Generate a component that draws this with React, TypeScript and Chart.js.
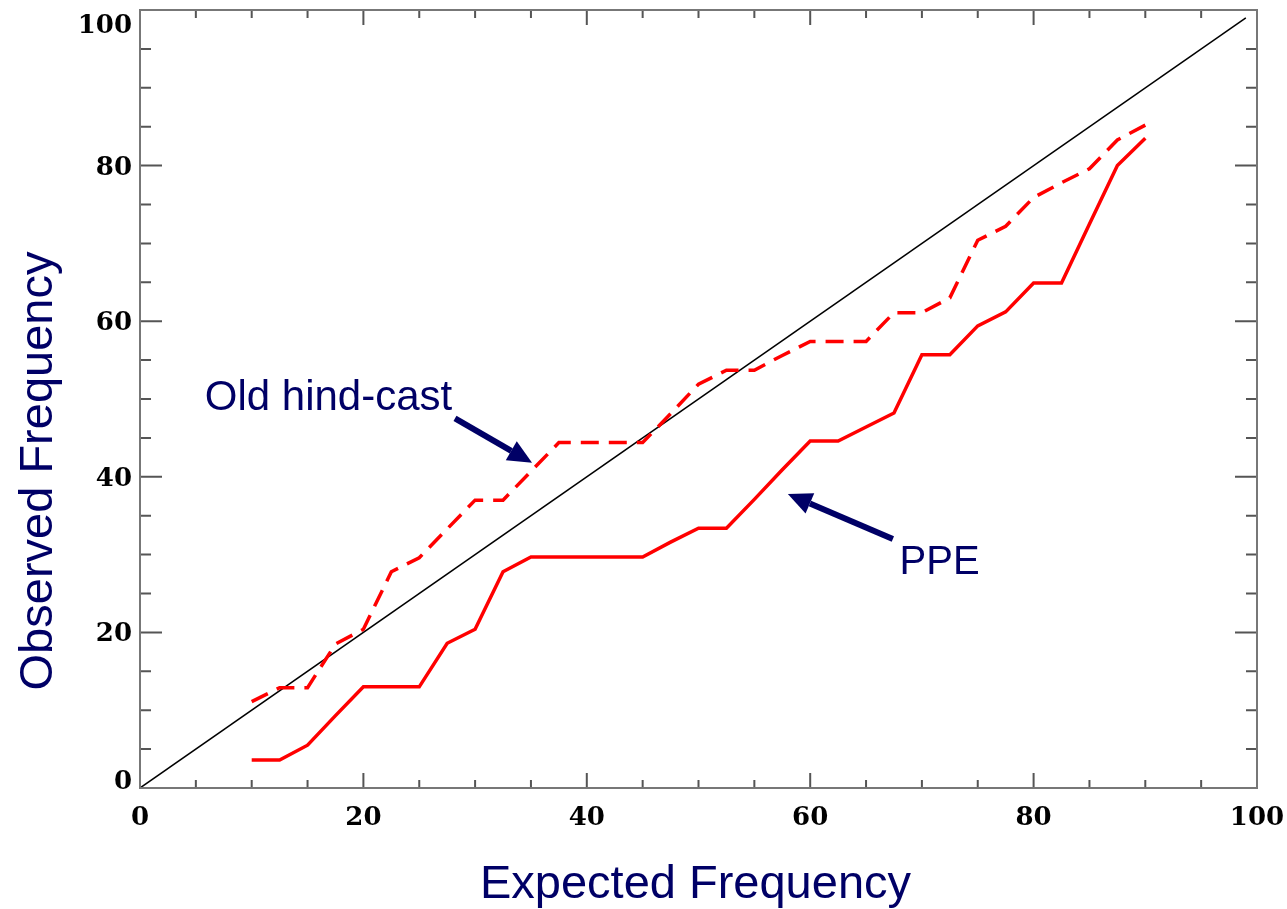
import React, { useEffect, useRef } from "react";
import { Chart, registerables } from "chart.js";

Chart.register(...registerables);

// values
const expected = [
  10, 12.5, 15, 17.5, 20, 22.5, 25, 27.5, 30, 32.5, 35, 37.5, 40, 42.5, 45, 47.5, 50,
  52.5, 55, 57.5, 60, 62.5, 65, 67.5, 70, 72.5, 75, 77.5, 80, 82.5, 85, 87.5, 90,
];
const ppe = [
  3.6, 3.6, 5.5, 9.3, 13.0, 13.0, 13.0, 18.6, 20.4, 27.8, 29.7, 29.7, 29.7, 29.7, 29.7, 31.6, 33.4,
  33.4, 37.1, 40.9, 44.6, 44.6, 46.4, 48.2, 55.7, 55.7, 59.4, 61.2, 64.9, 64.9, 72.5, 80.0, 83.5,
];
const oldHindcast = [
  11.1, 12.9, 12.9, 18.5, 20.4, 27.8, 29.6, 33.3, 37.0, 37.0, 40.7, 44.4, 44.4, 44.4, 44.4, 48.1, 51.9,
  53.7, 53.7, 55.6, 57.4, 57.4, 57.4, 61.1, 61.1, 63.0, 70.4, 72.2, 75.9, 77.8, 79.6, 83.3, 85.2,
];
const diagonalX = [0, 99];
const diagonalY = [0, 99];

const majorTicks = [0, 20, 40, 60, 80, 100];
const minorTicks = [5, 10, 15, 25, 30, 35, 45, 50, 55, 65, 70, 75, 85, 90, 95];

const NAVY = "#000066";

const drawArrow = (ctx: CanvasRenderingContext2D, x1: number, y1: number, x2: number, y2: number) => {
  const ang = Math.atan2(y2 - y1, x2 - x1);
  const headLen = 24;
  const headHalf = 11;
  const bx = x2 - headLen * Math.cos(ang);
  const by = y2 - headLen * Math.sin(ang);
  ctx.strokeStyle = NAVY;
  ctx.fillStyle = NAVY;
  ctx.lineWidth = 6;
  ctx.lineCap = "butt";
  ctx.beginPath();
  ctx.moveTo(x1, y1);
  ctx.lineTo(bx, by);
  ctx.stroke();
  ctx.beginPath();
  ctx.moveTo(x2, y2);
  ctx.lineTo(bx + headHalf * Math.sin(ang), by - headHalf * Math.cos(ang));
  ctx.lineTo(bx - headHalf * Math.sin(ang), by + headHalf * Math.cos(ang));
  ctx.closePath();
  ctx.fill();
};

const framePlugin = {
  id: "frame",
  afterDraw(chart: any) {
    const { ctx, chartArea } = chart;
    const { left, right, top, bottom } = chartArea;
    const xs = chart.scales.x;
    const ys = chart.scales.y;
    ctx.save();

    // tick marks pointing inwards, on all four sides
    ctx.strokeStyle = "#555";
    ctx.lineWidth = 2;
    const tick = (v: number, xLen: number, yLen: number) => {
      const px = xs.getPixelForValue(v);
      const py = ys.getPixelForValue(v);
      ctx.beginPath();
      ctx.moveTo(px, bottom);
      ctx.lineTo(px, bottom - xLen);
      ctx.moveTo(px, top);
      ctx.lineTo(px, top + xLen);
      ctx.moveTo(left, py);
      ctx.lineTo(left + yLen, py);
      ctx.moveTo(right, py);
      ctx.lineTo(right - yLen, py);
      ctx.stroke();
    };
    majorTicks.forEach((v) => tick(v, 15, 22));
    minorTicks.forEach((v) => tick(v, 8, 11));

    ctx.strokeStyle = "#777";
    ctx.strokeRect(left, top, right - left, bottom - top);

    // tick labels
    ctx.fillStyle = "#000";
    ctx.font = 'bold 26px "DejaVu Serif", serif';
    ctx.textBaseline = "alphabetic";
    majorTicks.forEach((v) => {
      ctx.textAlign = "center";
      ctx.fillText(String(v), xs.getPixelForValue(v), bottom + 37);
      const py = ys.getPixelForValue(v);
      ctx.textAlign = "right";
      ctx.fillText(String(v), left - 8, Math.min(Math.max(py + 9, top + 23), bottom + 1));
    });

    // axis titles
    ctx.fillStyle = NAVY;
    ctx.font = '47px "Liberation Sans", Arial, sans-serif';
    ctx.textAlign = "center";
    ctx.fillText("Expected Frequency", (left + right) / 2 - 3, 898);
    ctx.save();
    ctx.translate(52, 471);
    ctx.rotate(-Math.PI / 2);
    ctx.fillText("Observed Frequency", 0, 0);
    ctx.restore();

    // annotations
    ctx.textAlign = "left";
    ctx.font = '42px "Liberation Sans", Arial, sans-serif';
    ctx.fillText("Old hind-cast", xs.getPixelForValue(5.8), ys.getPixelForValue(48.6));
    drawArrow(
      ctx,
      xs.getPixelForValue(28.2), ys.getPixelForValue(47.5),
      xs.getPixelForValue(35.1), ys.getPixelForValue(41.8)
    );
    ctx.fillStyle = NAVY;
    ctx.font = '40px "Liberation Sans", Arial, sans-serif';
    ctx.fillText("PPE", xs.getPixelForValue(68.0), ys.getPixelForValue(27.5));
    drawArrow(
      ctx,
      xs.getPixelForValue(67.4), ys.getPixelForValue(32.0),
      xs.getPixelForValue(58.0), ys.getPixelForValue(37.8)
    );

    ctx.restore();
  },
};

const App = () => {
  const canvasRef = useRef<HTMLCanvasElement | null>(null);
  const chartRef = useRef<Chart | null>(null);

  useEffect(() => {
    const ctx = canvasRef.current?.getContext("2d");
    if (!ctx) return;
    if (chartRef.current) chartRef.current.destroy();

    chartRef.current = new Chart(ctx, {
      type: "line",
      data: {
        datasets: [
          {
            label: "PPE",
            data: expected.map((x, i) => ({ x, y: ppe[i] })),
            borderColor: "#ff0000",
            borderWidth: 3.5,
            pointRadius: 0,
            tension: 0,
          },
          {
            label: "Old hind-cast",
            data: expected.map((x, i) => ({ x, y: oldHindcast[i] })),
            borderColor: "#ff0000",
            borderWidth: 3.5,
            borderDash: [18, 10],
            pointRadius: 0,
            tension: 0,
          },
          {
            label: "Perfect",
            data: diagonalX.map((x, i) => ({ x, y: diagonalY[i] })),
            borderColor: "#000",
            borderWidth: 1.5,
            pointRadius: 0,
            tension: 0,
          },
        ],
      },
      options: {
        animation: false,
        responsive: true,
        maintainAspectRatio: false,
        layout: { padding: { left: 140, top: 10, right: 30, bottom: 121 } },
        plugins: { legend: { display: false }, tooltip: { enabled: false } },
        scales: {
          x: { type: "linear", min: 0, max: 100, display: false },
          y: { type: "linear", min: 0, max: 100, display: false },
        },
      },
      plugins: [framePlugin],
    });

    return () => {
      if (chartRef.current) {
        chartRef.current.destroy();
        chartRef.current = null;
      }
    };
  }, []);

  return (
    <div style={{ position: "absolute", left: 0, top: 0, width: "1287px", height: "909px", background: "#fff" }}>
      <canvas ref={canvasRef}></canvas>
    </div>
  );
};

export default App;
